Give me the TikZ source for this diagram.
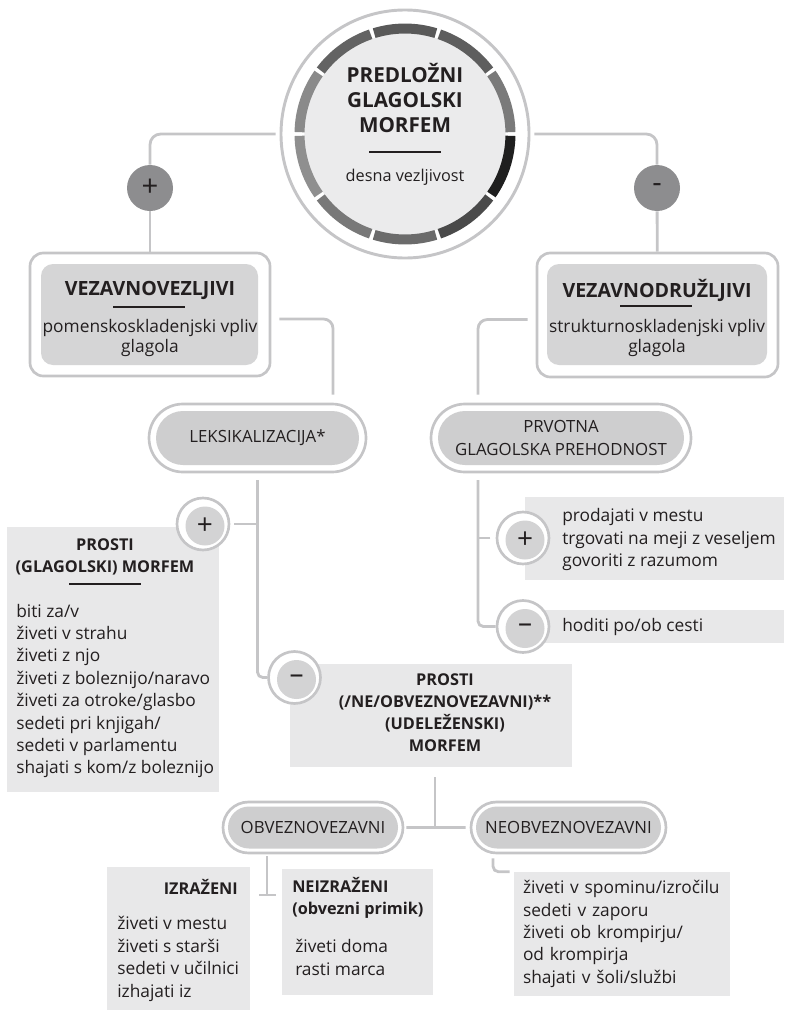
\documentclass[tikz,border=0pt]{standalone}
\usepackage{fontspec}
\setmainfont{Open Sans}
\usetikzlibrary{arrows.meta,positioning,calc,shapes.misc}
\definecolor{rim}{HTML}{C5C5C7}
\definecolor{hubc}{HTML}{EBEBEC}
\definecolor{cardc}{HTML}{D5D5D6}
\definecolor{pillc}{HTML}{CECECF}
\definecolor{sheetc}{HTML}{E8E8E9}
\definecolor{dotc}{HTML}{8D8D8F}
\definecolor{discc}{HTML}{D3D3D4}
\definecolor{ink}{HTML}{231F20}
\tikzset{
  wire/.style={draw=rim,line width=2.1pt,rounded corners=4pt},
  shell/.style={draw=rim,line width=2pt,fill=white,rounded corners=10pt,inner sep=0pt},
  card/.style={fill=cardc,rounded corners=9pt,inner sep=0pt},
  pillout/.style={rounded rectangle,draw=rim,line width=2pt,fill=white,inner sep=0pt},
  pillin/.style={rounded rectangle,fill=pillc,inner sep=0pt,text=ink,align=center,font=\fontsize{12.6}{17}\selectfont},
  sheet/.style={fill=sheetc,inner sep=0pt},
  dark/.style={circle,fill=dotc,minimum size=34.5pt,inner sep=0pt,text=ink,font=\fontsize{22}{22}\selectfont},
  ring/.style={circle,draw=rim,line width=2pt,fill=white,minimum size=39pt,inner sep=0pt},
  disc/.style={circle,fill=discc,minimum size=29.25pt,inner sep=0pt,text=ink,font=\fontsize{21}{21}\selectfont},
  hubhead/.style={font=\bfseries\fontsize{15.5}{18.75}\selectfont,text=ink,align=center,inner sep=0pt},
  head/.style={font=\bfseries\fontsize{14.7}{17}\selectfont,text=ink,inner sep=0pt},
  gloss/.style={font=\fontsize{13}{15}\selectfont,text=ink,align=center,inner sep=0pt},
  listhead/.style={font=\bfseries\fontsize{12.2}{16.6}\selectfont,text=ink,inner sep=0pt},
  items/.style={font=\fontsize{13}{16.8}\selectfont,text=ink,align=left,inner sep=0pt},
  rulebar/.style={fill=ink,minimum width=54pt,minimum height=1.4pt,inner sep=0pt},
}
\begin{document}
\begin{tikzpicture}[x=0.75pt,y=-0.75pt]
\useasboundingbox (0,0) rectangle (788,1010);
% centre circle
\node[circle,draw=rim,line width=2.2pt,minimum size=186pt,inner sep=0pt] (hubring) at (405,134) {};
\node[circle,fill=hubc,minimum size=151pt,inner sep=0pt] (hub) at (405,134) {};
\foreach \a/\k [evaluate=\a as \s using \a+1, evaluate=\a as \e using \a+35] in
  {0/52,36/63,72/65,108/61,144/46,180/44,216/53,252/58,288/71,324/88}
  \draw[line width=7.5pt,black!\k] (hub.center) ++(\s:79.1pt) arc[start angle=\s,end angle=\e,radius=79.1pt];
\node[hubhead] (hubT) at (405,98) {PREDLOŽNI\\GLAGOLSKI\\MORFEM};
\node[rulebar] (hubR) at (405,152) {};
\node[gloss,font=\fontsize{12.2}{15}\selectfont] (hubS) at (405,177) {desna vezljivost};
\node[dark] (plusA) at (150,188) {+};
\node[dark] (minusA) at (657,188) {-};
% first level
\node[shell,minimum width=180pt,minimum height=92.25pt] (vezL) at (150,314.5) {};
\node[card,minimum width=162.75pt,minimum height=75.75pt] (vezLc) at (149.5,314.5) {};
\node[head] (vezLT) at (150,290) {VEZAVNOVEZLJIVI};
\node[rulebar] (vezLR) at (149,307) {};
\node[gloss] (vezLB) at (150,338) {pomenskoskladenjski vpliv\\glagola};
\node[shell,minimum width=180.75pt,minimum height=93pt] (vezR) at (657.5,315) {};
\node[card,minimum width=165pt,minimum height=75.75pt] (vezRc) at (657,314.5) {};
\node[head] (vezRT) at (657,290) {VEZAVNODRUŽLJIVI};
\node[rulebar] (vezRR) at (656,306) {};
\node[gloss] (vezRB) at (657,338) {strukturnoskladenjski vpliv\\glagola};
% second level
\node[pillout,minimum width=162.75pt,minimum height=51pt] (leks) at (257.5,438) {};
\node[pillin,minimum width=152.25pt,minimum height=40.5pt] (leksI) at (257.5,438) {LEKSIKALIZACIJA*};
\node[pillout,minimum width=195pt,minimum height=51pt] (prv) at (561,438) {};
\node[pillin,minimum width=184.5pt,minimum height=40.5pt] (prvI) at (561,438) {PRVOTNA\\GLAGOLSKA PREHODNOST};
% left branch
\node[sheet,minimum width=159pt,minimum height=198.75pt] (glag) at (113,659.5) {};
\node[listhead,align=center] (glagT) at (105,557) {PROSTI\\(GLAGOLSKI) MORFEM};
\node[rulebar] (glagR) at (104.5,584) {};
\node[items,anchor=west] (glagL) at (16,691) {biti za/v\\živeti v strahu\\živeti z njo\\živeti z boleznijo/naravo\\živeti za otroke/glasbo\\sedeti pri knjigah/\\sedeti v parlamentu\\shajati s kom/z boleznijo};
\node[sheet,minimum width=211.5pt,minimum height=77.25pt] (probox) at (431,715.5) {};
\node[listhead,align=center] (proT) at (445,712.5) {PROSTI\\(/NE/OBVEZNOVEZAVNI)**\\(UDELEŽENSKI)\\MORFEM};
\node[ring] (plusB) at (203,524) {};
\node[disc] (plusBd) at (205,526) {+};
\node[ring] (minusB) at (294.5,677.5) {};
\node[disc] (minusBd) at (296.5,679.5) {–};
% right branch
\node[sheet,minimum width=194.25pt,minimum height=62.25pt] (sellB) at (654.5,538.5) {};
\node[items,anchor=west] (sellT) at (562,539.5) {prodajati v mestu\\trgovati na meji z veseljem\\govoriti z razumom};
\node[sheet,minimum width=194.25pt,minimum height=24.75pt] (walkB) at (654.5,626.5) {};
\node[items,anchor=west] (walkT) at (562,627) {hoditi po/ob cesti};
\node[ring] (plusC) at (523,538) {};
\node[disc] (plusCd) at (525,540) {+};
\node[ring] (minusC) at (523,626.5) {};
\node[disc] (minusCd) at (525,628.5) {–};
% bottom level
\node[pillout,minimum width=135pt,minimum height=38.25pt] (obv) at (313,827.5) {};
\node[pillin,minimum width=127.5pt,minimum height=31.5pt] (obvI) at (313,827.5) {OBVEZNOVEZAVNI};
\node[pillout,minimum width=146.25pt,minimum height=38.25pt] (neobv) at (568.5,827.5) {};
\node[pillin,minimum width=138.75pt,minimum height=31.5pt] (neobvI) at (568.5,827.5) {NEOBVEZNOVEZAVNI};
\node[sheet,minimum width=107.25pt,minimum height=107.25pt] (izr) at (178.5,938.5) {};
\node[listhead,anchor=east] (izrT) at (238,887) {IZRAŽENI};
\node[items,anchor=west] (izrL) at (117,959) {živeti v mestu\\živeti s starši\\sedeti v učilnici\\izhajati iz};
\node[sheet,minimum width=113.25pt,minimum height=94.5pt] (neiz) at (357.5,932) {};
\node[listhead,anchor=west,align=left] (neizT) at (292,897.5) {NEIZRAŽENI\\(obvezni primik)};
\node[items,anchor=west] (neizL) at (295,957.5) {živeti doma\\rasti marca};
\node[sheet,items,text width=148.5pt,minimum height=93pt,inner xsep=6.75pt] (neoL) at (622,934) {živeti v spominu/izročilu\\sedeti v zaporu\\živeti ob krompirju/\\od krompirja\\shajati v šoli/službi};
% connectors
\coordinate (prvK) at ([xshift=-62.25pt]prv.south);
\coordinate (proK) at ([xshift=3pt]probox.south);
\coordinate (obvK) at ([xshift=-34.5pt]obv.south);
\coordinate (obvT) at ([yshift=-31.5pt]obvK);
\coordinate (neoK) at ([xshift=-56.6pt]neobv.south);
\draw[wire,rounded corners=8pt,shorten <=3pt] (hubring.west) -| (plusA);
\draw[wire,rounded corners=8pt,shorten <=3pt] (hubring.east) -| (minusA);
\draw[wire] (plusA) -- (vezL);
\draw[wire] (minusA) -- (vezR);
\draw[wire,rounded corners=7pt,shorten <=6pt,shorten >=6pt] ([yshift=-3.4pt]vezL.east) -| ([xshift=56.6pt]leks.north);
\draw[wire,rounded corners=7pt,shorten <=6pt,shorten >=6pt] ([yshift=-3.4pt]vezR.west) -| ([xshift=-62.25pt]prv.north);
\draw[wire,shorten <=5pt] (leks.south) |- (minusB);
\draw[wire,shorten <=3pt] (plusB) -- (plusB -| leks.south);
\draw[wire,shorten <=5pt] (prvK) |- (minusC);
\draw[wire,shorten <=4pt] (plusC) -- (plusC -| prvK);
\draw[wire,shorten <=7.5pt] (proK) -- (proK |- obv.east);
\draw[wire,shorten <=1.5pt,shorten >=3pt] (obv) -- (neobv);
\draw[wire,shorten <=1.5pt,-{Bar[width=12.75pt]}] (obvK) -- (obvT);
\draw[wire,shorten <=3pt,shorten >=3pt] (neoK) |- (neoL.north west);
\end{tikzpicture}
\end{document}
